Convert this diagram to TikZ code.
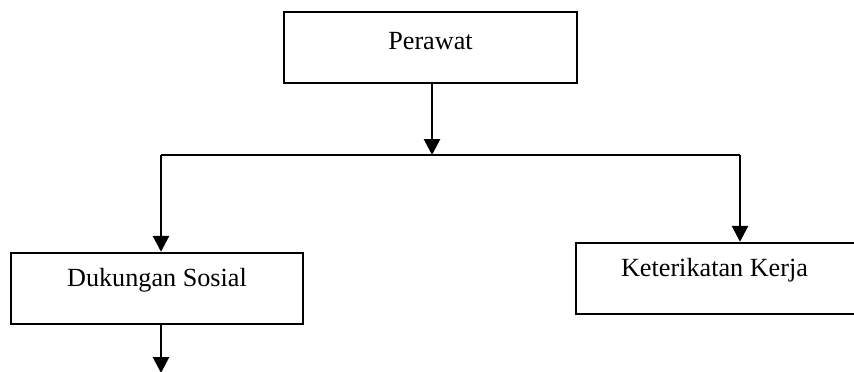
\documentclass[tikz,border=0pt]{standalone}
\usepackage{fontspec}
\setmainfont{Liberation Serif}
\usetikzlibrary{arrows.meta,calc}
\begin{document}
\begin{tikzpicture}[x=0.5pt,y=-0.5pt,
  box/.style={draw=black,line width=1.2pt,rectangle,inner sep=0pt},
  lbl/.style={font=\fontsize{13.1}{15}\selectfont,inner sep=0pt},
  arr/.style={line width=1.4pt,-{Triangle[width=8pt,length=8pt]}},
  ln/.style={line width=1.2pt}]
\useasboundingbox (0,0) rectangle (854,371);
\fill[white] (0,0) rectangle (854,371);
% boxes
\node[box,minimum width=146.5pt,minimum height=35.5pt] (per) at (430.5,47.5) {};
\node[lbl] (pert) at ($(per.center)+(0,-6)$) {Perawat};
\node[box,minimum width=146pt,minimum height=35.5pt] (duk) at (157,288.5) {};
\node[lbl] (dukt) at ($(duk.center)+(0,-8)$) {Dukungan Sosial};
\node[box,minimum width=140pt,minimum height=35.5pt] (ket) at (716,278.5) {};
\node[lbl] (kett) at (714.5,270.5) {Keterikatan Kerja};
% connectors
\coordinate (sp) at (432,155);
\coordinate (L) at (161,155);
\coordinate (R) at (740,155);
\coordinate (bot) at (161,373);
\draw[ln] (L) -- (R);
\draw[arr] (sp |- per.south) -- (sp);
\draw[arr] (L) -- (L |- duk.north);
\draw[arr] (R) -- (R |- ket.north);
\draw[arr] (bot |- duk.south) -- (bot);
\end{tikzpicture}
\end{document}
